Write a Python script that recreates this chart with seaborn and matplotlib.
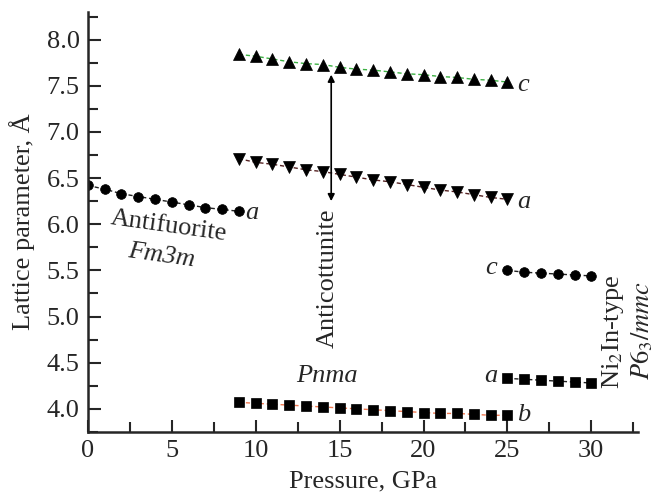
import seaborn as sns
import matplotlib.pyplot as plt
from matplotlib.ticker import MultipleLocator
import numpy as np

# Antifluorite (Fm3m), parameter a
p_af = [0, 1, 2, 3, 4, 5, 6, 7, 8, 9]
a_af = [6.42, 6.38, 6.33, 6.30, 6.27, 6.24, 6.21, 6.18, 6.16, 6.14]

# Anticottunite (Pnma), parameters c, a, b
p_ac = list(range(9, 26))
c_ac = [7.84, 7.82, 7.79, 7.76, 7.74, 7.73, 7.70, 7.68, 7.67, 7.65,
        7.63, 7.62, 7.60, 7.59, 7.57, 7.56, 7.54]
a_ac = [6.71, 6.67, 6.65, 6.62, 6.59, 6.57, 6.54, 6.51, 6.48, 6.46,
        6.43, 6.40, 6.37, 6.35, 6.32, 6.29, 6.27]
b_ac = [4.07, 4.06, 4.05, 4.04, 4.03, 4.02, 4.01, 4.00, 3.99, 3.98,
        3.97, 3.96, 3.95, 3.95, 3.94, 3.93, 3.93]

# Ni2In-type (P6_3/mmc), parameters c, a
p_ni = [25, 26, 27, 28, 29, 30]
c_ni = [5.50, 5.48, 5.47, 5.46, 5.45, 5.44]
a_ni = [4.33, 4.32, 4.31, 4.30, 4.29, 4.28]

sns.set_style('ticks')
plt.rcParams['font.family'] = ['Liberation Serif', 'DejaVu Serif']
plt.rcParams['mathtext.fontset'] = 'stix'

fig = plt.figure(figsize=(6.56, 4.97), dpi=100)
ax = fig.add_axes([0.134, 0.131, 0.839, 0.845])

series = [
    (p_af, a_af, 'o', '#222222', 7),
    (p_ac, c_ac, '^', '#3cb043', 8),
    (p_ac, a_ac, 'v', '#552222', 8),
    (p_ac, b_ac, 's', '#f07850', 6.5),
    (p_ni, c_ni, 'o', '#222222', 7),
    (p_ni, a_ni, 's', '#222222', 6.5),
]
for x, y, m, lc, ms in series:
    sns.lineplot(x=x, y=y, ax=ax, color=lc, linestyle=(0, (3, 2)), linewidth=1,
                 marker=m, markersize=ms, markerfacecolor='black',
                 markeredgecolor='black', markeredgewidth=0.5)

fs = 19
ax.set_xlim(0, 32.8)
ax.set_ylim(3.75, 8.3)
ax.xaxis.set_major_locator(MultipleLocator(5))
ax.xaxis.set_minor_locator(MultipleLocator(2.5))
ax.yaxis.set_major_locator(MultipleLocator(0.5))
ax.yaxis.set_minor_locator(MultipleLocator(0.25))
ax.set_yticks(np.arange(4.0, 8.01, 0.5))
ax.set_yticklabels([f'{v:.1f}' for v in np.arange(4.0, 8.01, 0.5)])
ax.tick_params(which='major', direction='in', length=9, width=1.5, labelsize=fs, pad=6)
ax.tick_params(which='minor', direction='in', length=7, width=1.5)
for s in ['left', 'bottom']:
    ax.spines[s].set_linewidth(1.8)
sns.despine(ax=ax)

ax.set_xlabel('Pressure, GPa', fontsize=fs, labelpad=6)
ax.set_ylabel('Lattice parameter, Å', fontsize=fs, labelpad=8)

# annotations
it = dict(fontsize=fs, style='italic')
ax.text(9.4, 6.12, 'a', ha='left', va='center', **it)
ax.text(4.8, 5.98, 'Antifuorite', ha='center', va='center', fontsize=fs, rotation=-8)
ax.text(4.4, 5.66, 'Fm3m', ha='center', va='center', rotation=-8, **it)

ax.text(25.6, 7.51, 'c', ha='left', va='center', **it)
ax.text(25.6, 6.24, 'a', ha='left', va='center', **it)
ax.annotate('', xy=(14.5, 7.62), xytext=(14.5, 6.25),
            arrowprops=dict(arrowstyle='<|-|>', color='black', lw=1.2,
                            mutation_scale=10, shrinkA=0, shrinkB=0))
ax.text(14.27, 5.41, 'Anticottunite', ha='center', va='center', fontsize=fs, rotation=90)
ax.text(14.27, 4.36, 'Pnma', ha='center', va='center', **it)
ax.text(25.6, 3.93, 'b', ha='left', va='center', **it)

ax.text(24.4, 5.53, 'c', ha='right', va='center', **it)
ax.text(24.4, 4.36, 'a', ha='right', va='center', **it)
ax.text(31.3, 4.84, 'Ni$_2$In-type', ha='center', va='center', fontsize=fs,
        rotation=90, clip_on=False)
ax.text(33.05, 4.85, '$P6_3/mmc$', ha='center', va='center', fontsize=fs,
        rotation=90, clip_on=False)

fig.savefig('out.png', dpi=100)
